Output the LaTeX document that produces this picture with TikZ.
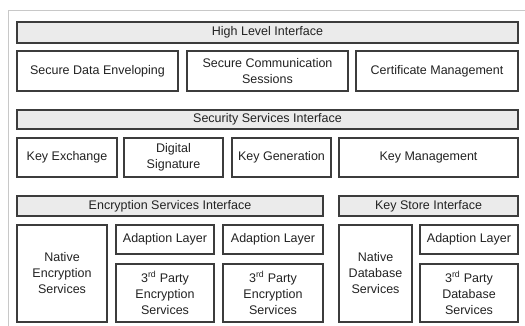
\documentclass[tikz,border=0pt]{standalone}
\usepackage{fontspec}
\setmainfont{Liberation Sans}
\definecolor{boxline}{HTML}{3C3C3C}
\definecolor{barfill}{HTML}{EBEBEB}
\definecolor{framegray}{HTML}{C8C8C8}
\definecolor{txt}{HTML}{222222}
\newcommand{\bx}[7]{%
  \node[#1, minimum width={#5-#3}, minimum height={#6-#4}]
    (#2) at ({(#3+#5)/2},{-(#4+#6)/2}) {#7};}
\begin{document}
\begin{tikzpicture}[x=1pt,y=1pt,
  base/.style={draw=boxline, line width=1.2pt, inner sep=0pt, outer sep=0pt,
    align=center, text=txt, font=\fontsize{12.5}{16}\selectfont},
  plainbox/.style={base, fill=white},
  barbox/.style={base, fill=barfill}]
\useasboundingbox (0,0) rectangle (525,-326);
\fill[white] (0,0) rectangle (525,-326);
\coordinate (fa) at (8,-326);
\coordinate (fb) at (8,-11);
\coordinate (fc) at (525,-11);
\draw[framegray, line width=1pt] (fa) -- (fb) -- (fc);
% Row 1
\bx{barbox}{hli}{17}{22}{518}{43}{High Level Interface}
% Row 2
\bx{plainbox}{sde}{17}{51}{178}{91}{Secure Data Enveloping}
\bx{plainbox}{scs}{187}{51}{348}{91}{Secure Communication\\Sessions}
\bx{plainbox}{cm}{356}{51}{518}{91}{Certificate Management}
% Row 3
\bx{barbox}{ssi}{17}{110}{518}{129}{Security Services Interface}
% Row 4
\bx{plainbox}{kex}{17}{138}{117}{177}{Key Exchange}
\bx{plainbox}{dsig}{124}{138}{223}{177}{Digital\\Signature}
\bx{plainbox}{kgen}{232}{138}{331}{177}{Key Generation}
\bx{plainbox}{kmgt}{339}{138}{518}{177}{Key Management}
% Row 5
\bx{barbox}{esi}{17}{196}{323}{216}{Encryption Services Interface}
\bx{barbox}{ksi}{339}{196}{518}{216}{Key Store Interface}
% Row 6
\bx{plainbox}{nes}{17}{225}{107}{322}{Native\\Encryption\\Services}
\bx{plainbox}{al1}{116}{225}{214}{254}{Adaption Layer}
\bx{plainbox}{tpe1}{116}{264}{214}{322}{3\textsuperscript{rd} Party\\Encryption\\Services}
\bx{plainbox}{al2}{223}{225}{323}{254}{Adaption Layer}
\bx{plainbox}{tpe2}{223}{264}{323}{322}{3\textsuperscript{rd} Party\\Encryption\\Services}
\bx{plainbox}{nds}{339}{225}{412}{322}{Native\\Database\\Services}
\bx{plainbox}{al3}{420}{225}{518}{254}{Adaption Layer}
\bx{plainbox}{tpd}{420}{264}{518}{322}{3\textsuperscript{rd} Party\\Database\\Services}
\end{tikzpicture}
\end{document}
